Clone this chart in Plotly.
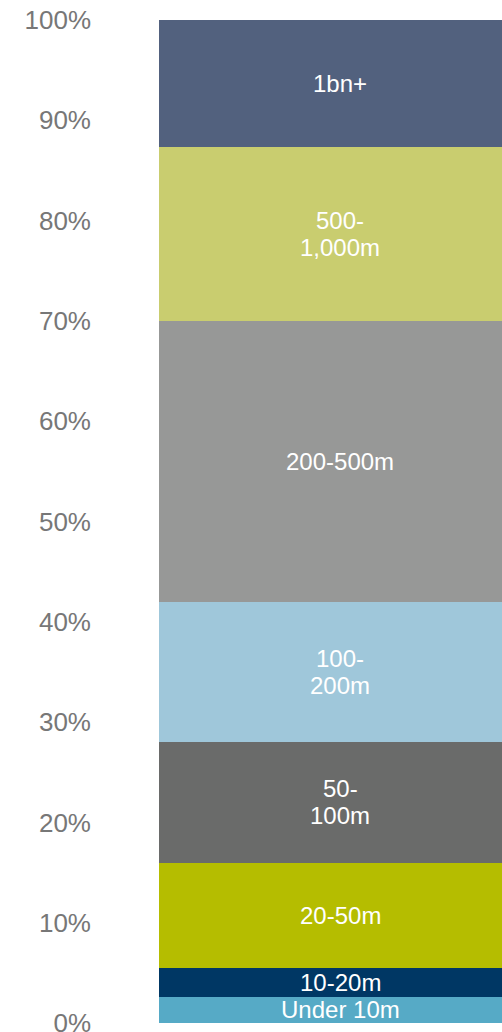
import plotly.graph_objects as go

categories = ["Under 10m", "10-20m", "20-50m", "50-100m", "100-200m", "200-500m", "500-1,000m", "1bn+"]
label_lines = [["Under 10m"], ["10-20m"], ["20-50m"], ["50-", "100m"], ["100-", "200m"],
               ["200-500m"], ["500-", "1,000m"], ["1bn+"]]
values = [2.62, 2.86, 10.5, 12.03, 13.96, 28.0, 17.38, 12.65]
colors = ["#56AAC6", "#003764", "#B5BD00", "#6A6B6A", "#9FC7DA", "#979897", "#C9CD6F", "#52617E"]
tick_vals = [0, 10, 20, 30, 40, 50, 60, 70, 80, 90, 100]
tick_text = [f"{v}%" for v in tick_vals]

FONT = "Liberation Sans, Arial, sans-serif"
LINE_GAP = 27

fig = go.Figure()
base = 0.0
for name, lines, v, c in zip(categories, label_lines, values, colors):
    fig.add_trace(go.Bar(
        x=[0], y=[v], name=name, width=1,
        marker=dict(color=c, line=dict(width=0)),
        hoverinfo="skip",
    ))
    mid = base + v / 2
    n = len(lines)
    for i, ln in enumerate(lines):
        shift = ((n - 1) / 2 - i) * LINE_GAP
        fig.add_annotation(x=0, y=mid, text=ln, showarrow=False, yshift=shift,
                           xanchor="center", yanchor="middle",
                           font=dict(color="white", size=24, family=FONT))
    base += v

fig.update_layout(
    barmode="stack", bargap=0,
    width=502, height=1032,
    margin=dict(l=100, r=0, t=20, b=9),
    showlegend=False,
    paper_bgcolor="white", plot_bgcolor="white",
    font=dict(family=FONT),
    xaxis=dict(range=[-0.663, 0.4475], visible=False, fixedrange=True, automargin=False),
    yaxis=dict(range=[0, 100], tickvals=tick_vals, ticktext=tick_text,
               showgrid=False, zeroline=False, showline=False, automargin=False,
               tickfont=dict(size=26, color="#777777"),
               ticks="", ticklabelstandoff=8, ticklabeloverflow="allow"),
)

fig.write_html("out.html", config={"displayModeBar": False},
               post_script="document.body.style.margin='0';document.body.style.overflow='hidden';")
